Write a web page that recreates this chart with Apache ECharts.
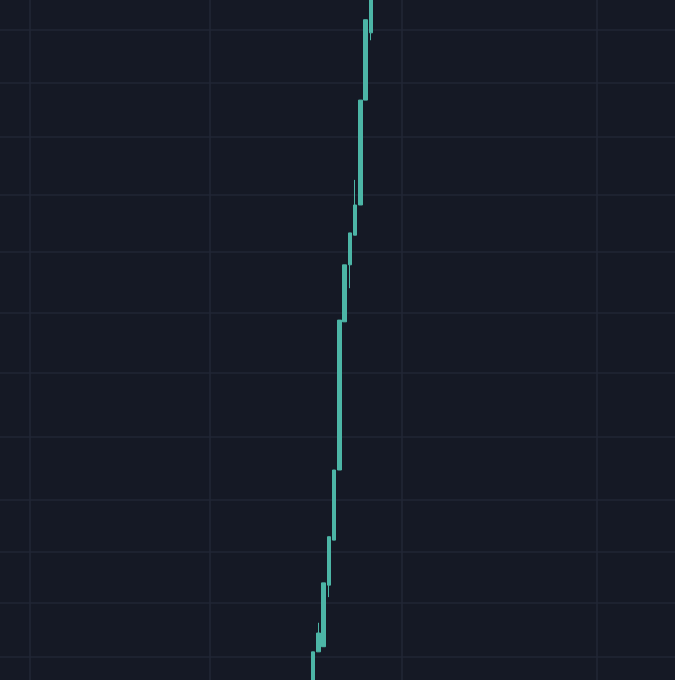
<!DOCTYPE html>
<html>
<head>
<meta charset="utf-8">
<style>
html,body{margin:0;padding:0;background:#151925;}
#c{width:675px;height:680px;}
</style>
<script src="https://cdn.jsdelivr.net/npm/echarts@6/dist/echarts.min.js"></script>
</head>
<body>
<div id="c"></div>
<script>
// candle index (days) and OHLC values
const days   = [0, 1, 2, 3, 4, 5, 6, 7, 8, 9, 10, 11];
const opens  = [92.5, 100.9, 101.8, 112.6, 120.5, 132.8, 158.8, 168.8, 174.0, 179.3, 197.7, 209.5];
const closes = [100.9, 104.2, 113.0, 121.1, 132.8, 159.1, 168.8, 174.4, 179.3, 197.7, 211.8, 218.8];
const lows   = [92.5, 100.9, 101.8, 110.5, 120.5, 132.8, 158.8, 164.7, 174.0, 179.3, 197.7, 208.2];
const highs  = [100.9, 106.0, 113.0, 121.1, 132.8, 159.1, 168.8, 174.4, 183.7, 197.7, 211.8, 218.8];

// grid line positions (price levels and day positions)
const priceGridLevels = [100, 109.5, 118.4, 127.5, 138.6, 149.8, 160.4, 171.1, 181.1, 191.2, 200.7, 210];
const dayGridLevels = [-53.7, -19.55, 16.88, 53.88];

const rows = days.map((d, i) => [d, opens[i], closes[i], lows[i], highs[i]]);

const chart = echarts.init(document.getElementById('c'), null, {renderer: 'canvas'});
chart.setOption({
  backgroundColor: '#151925',
  animation: false,
  grid: {left: 0, right: 0, top: 0, bottom: 0},
  xAxis: {
    type: 'value',
    min: -59.4,
    max: 68.68,
    axisLine: {show: false},
    axisLabel: {show: false, customValues: dayGridLevels},
    axisTick: {show: false, customValues: dayGridLevels},
    splitLine: {show: true, lineStyle: {color: '#222736', width: 1.5}}
  },
  yAxis: {
    type: 'value',
    min: 95.96,
    max: 215.26,
    axisLine: {show: false},
    axisLabel: {show: false, customValues: priceGridLevels},
    axisTick: {show: false, customValues: priceGridLevels},
    splitLine: {show: true, lineStyle: {color: '#212635', width: 1.5}}
  },
  series: [{
    type: 'candlestick',
    data: rows,
    encode: {x: 0, y: [1, 2, 3, 4]},
    barWidth: 4,
    itemStyle: {
      color: '#4cb5a6',
      borderColor: '#4cb5a6',
      color0: '#ef5350',
      borderColor0: '#ef5350',
      borderWidth: 1
    }
  }]
});
</script>
</body>
</html>
